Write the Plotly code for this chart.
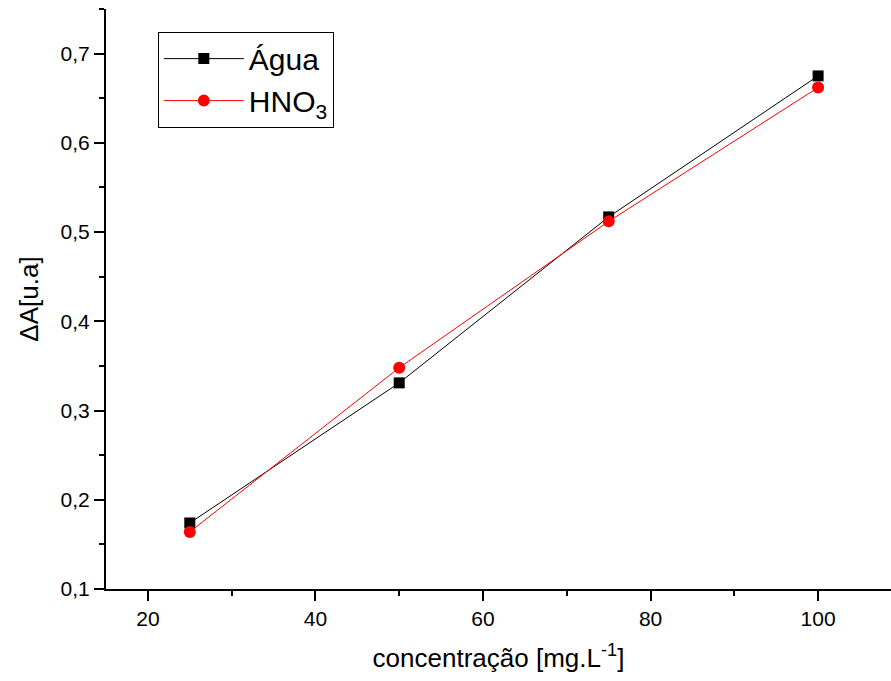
import plotly.graph_objects as go

conc = [25, 50, 75, 100]
agua = [0.174, 0.331, 0.517, 0.675]
hno3 = [0.164, 0.348, 0.512, 0.662]

FONT = "Liberation Sans, Arial, sans-serif"

fig = go.Figure()
fig.add_trace(go.Scatter(
    x=conc, y=agua, mode="lines+markers", name="Água",
    line=dict(color="black", width=1),
    marker=dict(symbol="square", size=11, color="black"),
))
fig.add_trace(go.Scatter(
    x=conc, y=hno3, mode="lines+markers", name="HNO<sub>3</sub>",
    line=dict(color="red", width=1),
    marker=dict(symbol="circle", size=12, color="red"),
))

fig.update_layout(
    width=891, height=681,
    margin=dict(l=106, r=0, t=9, b=92),
    paper_bgcolor="white", plot_bgcolor="white",
    separators=", ",
    font=dict(family=FONT, color="black", size=21),
    showlegend=True,
    legend=dict(
        x=0.066, y=0.961, xanchor="left", yanchor="top",
        bordercolor="black", borderwidth=1, bgcolor="white",
        font=dict(size=30, family=FONT),
        itemwidth=80,
    ),
    xaxis=dict(
        range=[15, 108.7], showline=True, linecolor="black", linewidth=2,
        showgrid=False, zeroline=False,
        ticks="outside", ticklen=10, tickwidth=2, tickcolor="black",
        tick0=20, dtick=20,
        minor=dict(ticks="outside", ticklen=5, tickwidth=2, tickcolor="black", dtick=10, tick0=0),
        tickfont=dict(size=21),
        title=dict(text="concentração [mg.L<sup>-1</sup>]", font=dict(size=26), standoff=20),
    ),
    yaxis=dict(
        range=[0.1, 0.75], showline=True, linecolor="black", linewidth=2,
        showgrid=False, zeroline=False,
        ticks="outside", ticklen=10, tickwidth=2, tickcolor="black",
        tick0=0.1, dtick=0.1, tickformat=".1f",
        minor=dict(ticks="outside", ticklen=5, tickwidth=2, tickcolor="black", dtick=0.05, tick0=0.1),
        tickfont=dict(size=21),
        title=dict(text="ΔA[u.a]", font=dict(size=26), standoff=14),
    ),
)

fig.write_html("out.html")
